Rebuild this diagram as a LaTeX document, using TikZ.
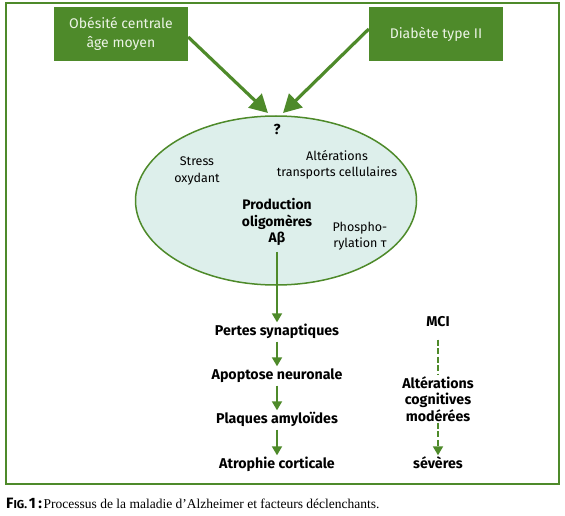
\documentclass[tikz,border=0pt]{standalone}
\usepackage{fontspec}
\setmainfont{Liberation Serif}
\setsansfont{Fira Sans}
\usetikzlibrary{arrows.meta,shapes.geometric}
\definecolor{vert}{RGB}{78,138,42}
\definecolor{pale}{RGB}{221,239,235}
\definecolor{boxtxt}{RGB}{236,244,230}
\tikzset{
  box/.style={fill=vert, text=boxtxt, minimum width=134pt, minimum height=54pt, inner sep=0pt, align=center, font=\sffamily\fontsize{14}{19}\selectfont},
  bigarrow/.style={draw=vert, line width=3.2pt, -{Triangle[length=18pt,width=19pt]}},
  inner/.style={align=center, font=\sffamily\fontsize{12.5}{16.5}\selectfont, inner sep=0pt},
  bold/.style={align=center, font=\sffamily\bfseries\fontsize{14.2}{16.5}\selectfont, inner xsep=0pt, inner ysep=3.5pt, text height=9pt, text depth=3pt},
  arr/.style={draw=vert, line width=1.8pt, -{Triangle[length=9pt,width=10pt]}},
  darr/.style={draw=vert, line width=1.8pt, dash pattern=on 6pt off 2.5pt, -{Triangle[length=9pt,width=10pt]}},
  dline/.style={draw=vert, line width=1.8pt, dash pattern=on 6pt off 2.5pt},
}
\begin{document}
\begin{tikzpicture}[x=1pt,y=-1pt]
\useasboundingbox (0,0) rectangle (565,516);
\draw[vert, line width=2pt] (6,3) rectangle (559,484);
\node[ellipse, draw=vert, line width=1.5pt, fill=pale, minimum width=281pt, minimum height=169pt, inner sep=0pt] (ell) at (276,200.5) {};
\node[box] (b1) at (121,34) {Obésité centrale\\âge moyen};
\node[box] (b2) at (436,34) {Diabète type II};
\coordinate (tipL) at (268,113);
\coordinate (tipR) at (283,113);
\draw[bigarrow] ([yshift=-3pt]b1.east) -- (tipL);
\draw[bigarrow] ([yshift=5pt]b2.west) -- (tipR);
\node[font=\sffamily\bfseries\fontsize{14.5}{16}\selectfont, inner sep=0pt] (q) at (277,129) {?};
\node[inner] (stress) at (197,171) {Stress\\oxydant};
\node[inner] (transp) at (337,165) {Altérations\\transports cellulaires};
\node[align=center, font=\sffamily\bfseries\fontsize{13.8}{16.5}\selectfont, inner sep=0pt] (prod) at (277,222) {Production\\oligomères\\Aβ};
\node[inner] (phos) at (360,236) {Phospho-\\rylation τ};
\node[bold] (ps) at (277,332) {Pertes synaptiques};
\node[bold] (an) at (277,376) {Apoptose neuronale};
\node[bold] (pa) at (277,420) {Plaques amyloïdes};
\node[bold] (ac) at (277,465) {Atrophie corticale};
\draw[arr, shorten <=6pt] (prod.south) -- (ps.north);
\draw[arr] (ps.south) -- (an.north);
\draw[arr] (an.south) -- (pa.north);
\draw[arr] (pa.south) -- (ac.north);
\node[bold] (mci) at (438,323) {MCI};
\node[bold, text height=, text depth=, inner ysep=1pt] (acm) at (438,399) {Altérations\\cognitives\\modérées};
\node[bold] (sev) at (438,465) {sévères};
\draw[dline, shorten <=7pt] (mci.south) -- (acm.north);
\draw[darr] (acm.south) -- (sev.north);
\node[anchor=west, inner sep=0pt] (cap) at (6,503) {{\sffamily\bfseries\fontsize{15}{16}\selectfont F\fontsize{11.5}{14}\selectfont IG.\,\fontsize{15}{16}\selectfont 1\,:}\,\fontsize{13.5}{15}\selectfont Processus de la maladie d’Alzheimer et facteurs déclenchants.};
\end{tikzpicture}
\end{document}
